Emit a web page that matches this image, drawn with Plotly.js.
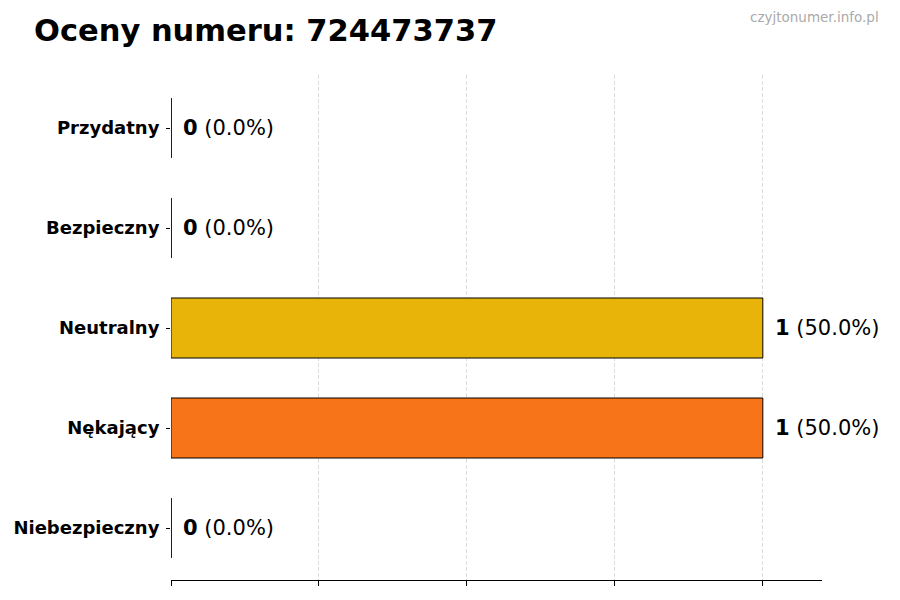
<!DOCTYPE html>
<html>
<head>
<meta charset="utf-8">
<script src="https://cdn.plot.ly/plotly-3.0.1.min.js"></script>
<style>
  body { margin: 0; background: #fff; }
  #chart { width: 900px; height: 600px; }
</style>
</head>
<body>
<div id="chart"></div>
<script>
// ---- data ----
var categories = ['Niebezpieczny', 'Nękający', 'Neutralny', 'Bezpieczny', 'Przydatny'];
var counts = [0, 1, 1, 0, 0];
var percents = [0.0, 50.0, 50.0, 0.0, 0.0];
var barColors = ['#d62728', '#f77518', '#e8b40a', '#2ca02c', '#1f77b4'];
var phone = '724473737';

var font = 'DejaVu Sans, sans-serif';

var trace = {
  type: 'bar',
  orientation: 'h',
  x: counts,
  y: categories,
  width: 0.6,
  marker: {color: barColors, line: {color: '#000', width: 1}},
  hoverinfo: 'none'
};

// value labels next to each bar
var notes = categories.map(function (c, i) {
  return {
    x: counts[i], y: c, xref: 'x', yref: 'y',
    text: '<b>' + counts[i] + '</b> (' + percents[i].toFixed(1) + '%)',
    showarrow: false, xanchor: 'left', xshift: 10,
    font: {family: font, size: 21, color: '#000'}
  };
});

notes.push({
  text: 'czyjtonumer.info.pl', xref: 'paper', yref: 'paper',
  x: 1.091, y: 1.115, xanchor: 'right', yanchor: 'middle', showarrow: false,
  font: {family: font, size: 13.5, color: '#aaaaaa'}
});

// plotly leaves zero-length bars blank, so draw their edges as lines
var zeroEdges = [];
categories.forEach(function (c, i) {
  if (counts[i] === 0) {
    zeroEdges.push({
      type: 'line', xref: 'x', yref: 'y',
      x0: counts[i], x1: counts[i], y0: i - 0.3, y1: i + 0.3,
      line: {color: '#000', width: 1}
    });
  }
});

var layout = {
  width: 900, height: 600,
  margin: {l: 171, r: 78, t: 75, b: 20},
  paper_bgcolor: '#fff', plot_bgcolor: '#fff',
  title: {
    text: '<b>Oceny numeru: ' + phone + '</b>',
    x: 34 / 900, xanchor: 'left', y: 1 - 30 / 600, yanchor: 'middle',
    font: {family: font, size: 30.5, color: '#000'}
  },
  xaxis: {
    range: [0, 1.1], dtick: 0.25, tick0: 0,
    showticklabels: false, ticks: 'outside', ticklen: 5, tickcolor: '#000',
    showline: true, linecolor: '#000', linewidth: 1,
    showgrid: true, gridcolor: '#d4d4d4', gridwidth: 0.8, griddash: '4px,2px',
    zeroline: false, fixedrange: true
  },
  yaxis: {
    type: 'category', categoryorder: 'array', categoryarray: categories,
    range: [-0.52, 4.53],
    ticks: 'outside', ticklen: 4, tickcolor: '#000', ticklabelstandoff: 3,
    showline: false, showgrid: false, zeroline: false,
    tickfont: {family: font, size: 18, color: '#000', weight: 'bold'},
    fixedrange: true
  },
  annotations: notes,
  shapes: zeroEdges,
  showlegend: false,
  bargap: 0.4
};

var config = {responsive: false, displayModeBar: false, staticPlot: true};
Plotly.newPlot('chart', [trace], layout, config);
</script>
</body>
</html>
